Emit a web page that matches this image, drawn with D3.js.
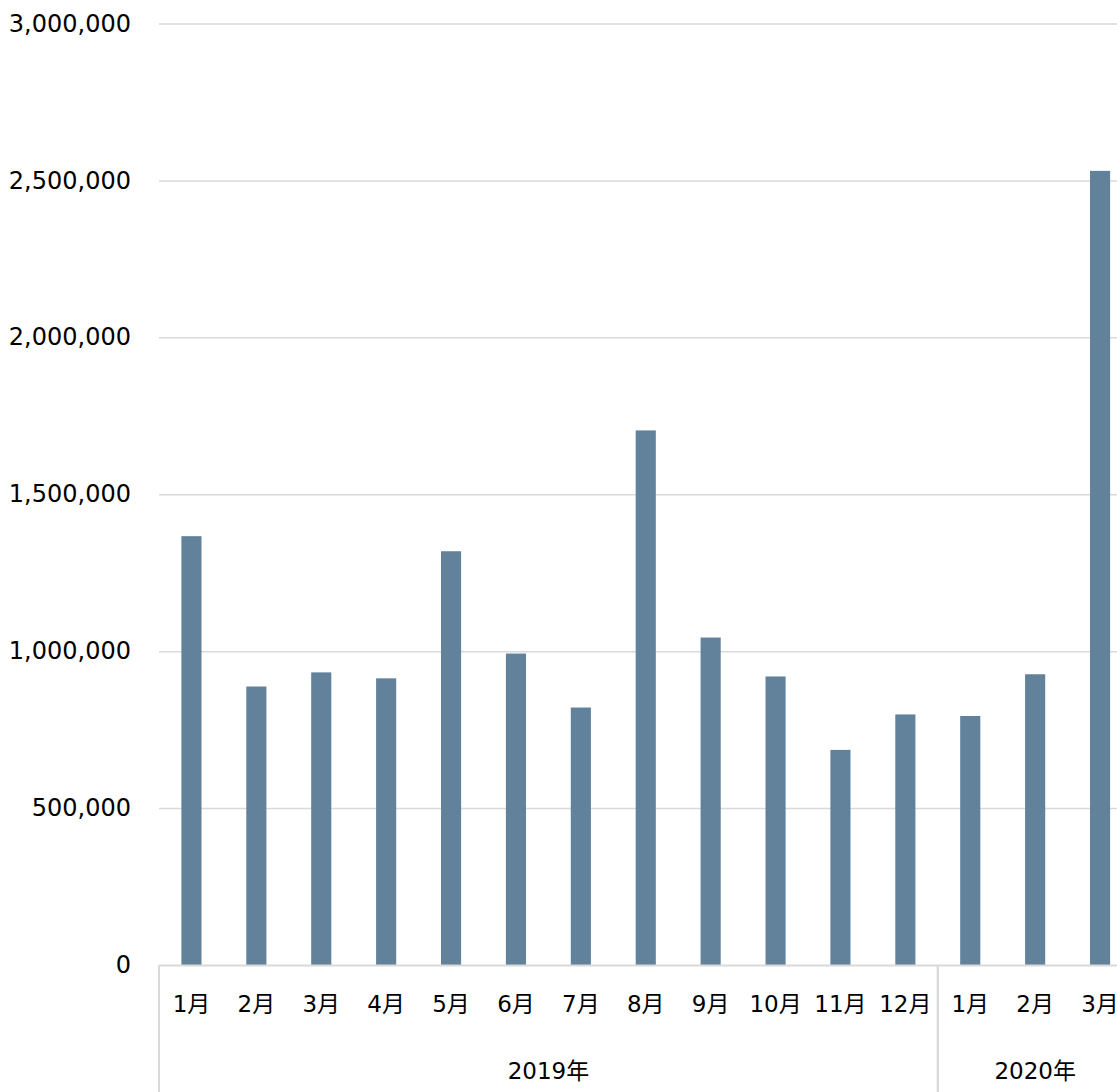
<!DOCTYPE html>
<html><head><meta charset="utf-8">
<script src="https://cdn.jsdelivr.net/npm/d3@7"></script>
<style>
html,body{margin:0;padding:0;background:#fff;}
text{font-family:"DejaVu Sans","Noto Sans CJK JP",sans-serif;fill:#000;}
</style></head>
<body><svg id="c" width="1117" height="1092"></svg>
<script>
const months = ["1月","2月","3月","4月","5月","6月","7月","8月","9月","10月","11月","12月","1月","2月","3月"];
const years = ["2019年","2019年","2019年","2019年","2019年","2019年","2019年","2019年","2019年","2019年","2019年","2019年","2020年","2020年","2020年"];
const values = [1368000,889000,934000,915000,1320000,994000,822000,1705000,1045000,921000,687000,800000,795000,928000,2532000];
const yTicks = [0,500000,1000000,1500000,2000000,2500000,3000000];

(function(){
const svg = d3.select("#c");
const L = 159, R = 1132.5, T = 24, B = 965.5;
const ids = months.map((m,i)=>i);
const x = d3.scaleBand().domain(ids).range([L,R]).paddingInner(0.69).paddingOuter(0.345);
const bx = d3.scaleBand().domain(ids).range([L,R]).padding(0);
const y = d3.scaleLinear().domain([0,3000000]).range([B,T]);

svg.append("g").selectAll("line").data(yTicks.filter(d=>d>0)).join("line")
  .attr("x1",L).attr("x2",1117).attr("y1",d=>y(d)).attr("y2",d=>y(d))
  .attr("stroke","#d9d9d9").attr("stroke-width",1.5);

const fmt = d3.format(",");
svg.append("g").selectAll("text").data(yTicks).join("text")
  .attr("x",131).attr("y",d=>y(d)-1).attr("dy","0.36em").attr("text-anchor","end")
  .attr("font-size",24).text(d=>fmt(d));

svg.append("g").selectAll("rect").data(values).join("rect")
  .attr("x",(d,i)=>x(i)).attr("width",x.bandwidth())
  .attr("y",d=>y(d)).attr("height",d=>y(0)-y(d))
  .attr("fill","#62819a");

svg.append("line").attr("x1",L).attr("x2",1117).attr("y1",B).attr("y2",B)
  .attr("stroke","#d9d9d9").attr("stroke-width",2);

svg.append("g").selectAll("text").data(months).join("text")
  .attr("x",(d,i)=>bx(i)+bx.bandwidth()/2).attr("y",1004).attr("dy","0.36em").attr("text-anchor","middle")
  .attr("font-size",23).text(d=>d);

const seps = [];
d3.groups(ids, i=>years[i]).forEach(([k,arr])=>{
  const s = bx(arr[0]), e = bx(arr[arr.length-1]) + bx.bandwidth();
  seps.push(s, e);
  svg.append("text").attr("x",(s+e)/2).attr("y",1071).attr("dy","0.36em")
    .attr("text-anchor","middle").attr("font-size",23).text(k);
});
svg.append("g").selectAll("line").data([...new Set(seps)]).join("line")
  .attr("x1",d=>d).attr("x2",d=>d).attr("y1",B).attr("y2",1092)
  .attr("stroke","#d9d9d9").attr("stroke-width",2);
})();
</script></body></html>
